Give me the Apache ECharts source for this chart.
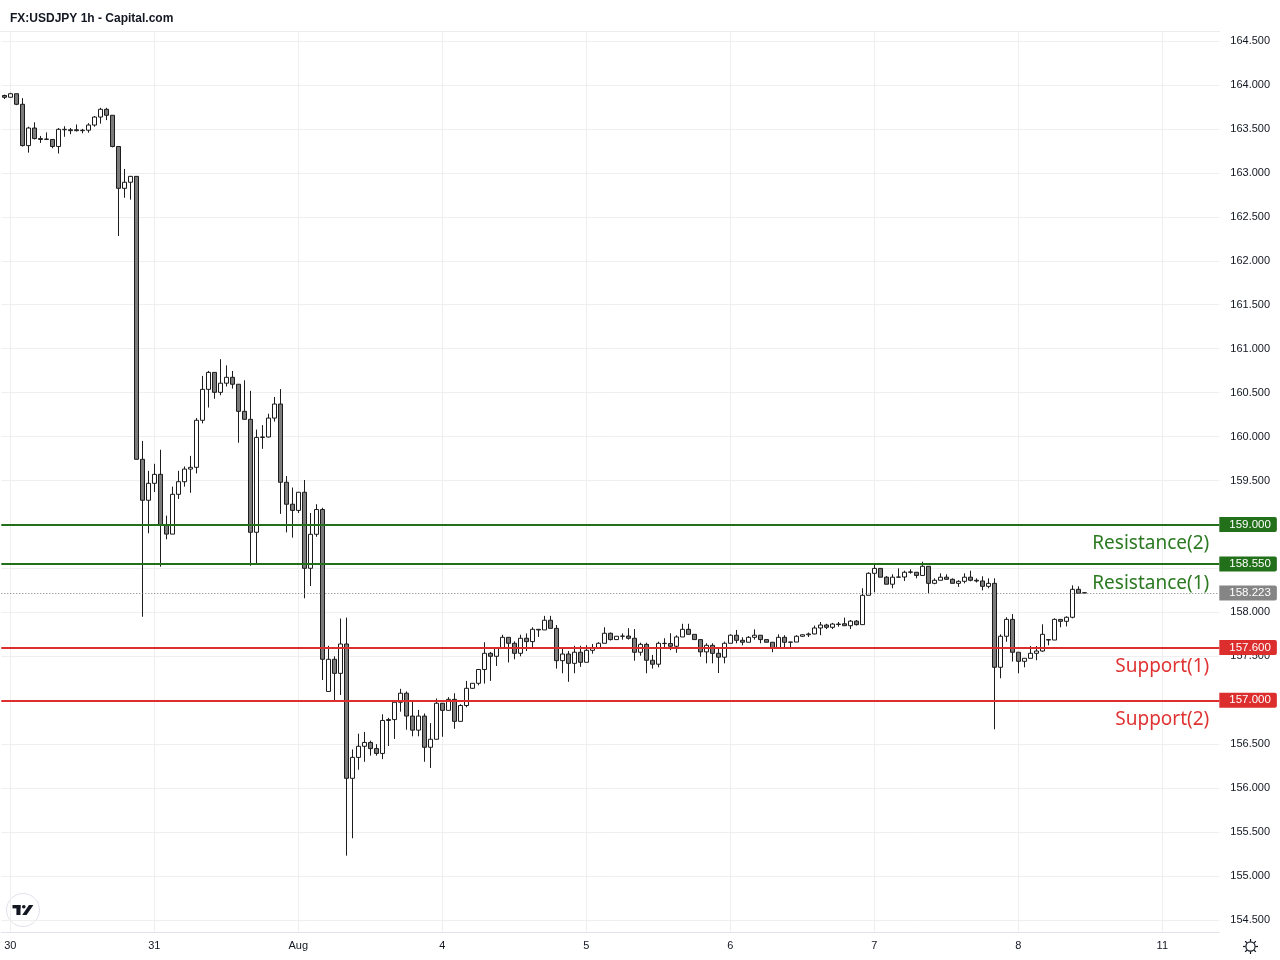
<!DOCTYPE html>
<html>
<head>
<meta charset="utf-8">
<title>FX:USDJPY 1h - Capital.com</title>
<script src="https://cdn.jsdelivr.net/npm/echarts@6/dist/echarts.min.js"></script>
<style>
  html, body { margin: 0; padding: 0; background: #ffffff; }
  #chart { width: 1280px; height: 960px; }
</style>
</head>
<body>
<div id="chart"></div>
<script>
// time axis: one label per trading day, 24 hourly candles each
const dayLabels = ['30', '31', 'Aug', '4', '5', '6', '7', '8', '11'];
const firstSlot = '29 23:00';

// hourly candles (first one is 29 23:00)
const opens = [
  163.88, 163.86, 163.90, 163.78, 163.31, 163.51, 163.39, 163.38, 163.38, 163.30,
  163.49, 163.49, 163.49, 163.48, 163.485, 163.544, 163.635, 163.723, 163.655, 163.30,
  162.824, 162.893, 162.96, 159.741, 159.275, 159.468, 159.57, 158.99, 158.89, 159.343,
  159.486, 159.63, 159.65, 160.185, 160.537, 160.73, 160.503, 160.607, 160.674, 160.595,
  160.287, 160.196, 158.911, 159.99, 159.995, 160.21, 160.37, 159.48, 159.23, 159.16,
  159.366, 158.501, 158.888, 159.17, 157.10, 157.466, 157.306, 157.64, 156.112, 156.35,
  156.476, 156.52, 156.45, 156.395, 156.77, 156.78, 156.977, 157.08, 156.82, 156.66,
  156.82, 156.465, 156.556, 156.966, 156.885, 157.01, 156.76, 156.94, 157.136, 157.193,
  157.35, 157.534, 157.50, 157.60, 157.716, 157.648, 157.534, 157.705, 157.667, 157.807,
  157.80, 157.91, 157.818, 157.45, 157.526, 157.42, 157.546, 157.432, 157.568, 157.60,
  157.648, 157.762, 157.69, 157.728, 157.73, 157.705, 157.546, 157.636, 157.455, 157.41,
  157.648, 157.645, 157.614, 157.72, 157.807, 157.75, 157.69, 157.55, 157.625, 157.534,
  157.49, 157.648, 157.74, 157.682, 157.66, 157.716, 157.74, 157.69, 157.66, 157.60,
  157.716, 157.66, 157.662, 157.728, 157.745, 157.754, 157.822, 157.856, 157.83, 157.867,
  157.87, 157.848, 157.90, 157.86, 158.194, 158.444, 158.50, 158.40, 158.32, 158.40,
  158.402, 158.456, 158.456, 158.42, 158.524, 158.33, 158.365, 158.40, 158.376, 158.33,
  158.353, 158.40, 158.365, 158.357, 158.296, 158.33, 157.375, 157.728, 157.92, 157.546,
  157.443, 157.477, 157.534, 157.56, 157.69, 157.685, 157.92, 157.898, 157.944, 158.262,
  158.22
];
const closes = [
  163.86, 163.90, 163.78, 163.31, 163.51, 163.39, 163.38, 163.385, 163.30, 163.495,
  163.495, 163.48, 163.48, 163.485, 163.544, 163.635, 163.723, 163.655, 163.30, 162.824,
  162.893, 162.96, 159.741, 159.275, 159.468, 159.57, 158.99, 158.89, 159.343, 159.486,
  159.63, 159.65, 160.185, 160.537, 160.73, 160.503, 160.607, 160.674, 160.595, 160.287,
  160.196, 158.911, 159.99, 159.995, 160.21, 160.37, 159.48, 159.23, 159.16, 159.366,
  158.501, 158.888, 159.17, 157.466, 157.466, 157.306, 157.64, 156.112, 156.35, 156.476,
  156.52, 156.45, 156.395, 156.77, 156.78, 156.977, 157.08, 156.82, 156.66, 156.82,
  156.465, 156.556, 156.966, 156.885, 157.01, 156.76, 156.94, 157.136, 157.193, 157.35,
  157.534, 157.50, 157.60, 157.716, 157.648, 157.534, 157.705, 157.667, 157.807, 157.80,
  157.91, 157.818, 157.45, 157.526, 157.42, 157.546, 157.432, 157.568, 157.60, 157.648,
  157.762, 157.69, 157.728, 157.73, 157.705, 157.546, 157.636, 157.455, 157.41, 157.648,
  157.645, 157.614, 157.72, 157.807, 157.75, 157.69, 157.55, 157.625, 157.534, 157.49,
  157.648, 157.74, 157.682, 157.66, 157.716, 157.74, 157.69, 157.66, 157.60, 157.716,
  157.66, 157.662, 157.728, 157.745, 157.754, 157.822, 157.856, 157.83, 157.867, 157.862,
  157.848, 157.90, 157.86, 158.194, 158.444, 158.50, 158.40, 158.32, 158.40, 158.402,
  158.456, 158.46, 158.42, 158.524, 158.33, 158.365, 158.40, 158.376, 158.33, 158.353,
  158.40, 158.365, 158.357, 158.296, 158.33, 157.375, 157.728, 157.92, 157.546, 157.443,
  157.477, 157.534, 157.56, 157.75, 157.685, 157.92, 157.898, 157.944, 158.262, 158.217,
  158.223
];
const lows = [
  163.84, 163.86, 163.77, 163.30, 163.23, 163.38, 163.34, 163.38, 163.28, 163.22,
  163.41, 163.44, 163.47, 163.45, 163.457, 163.525, 163.56, 163.60, 163.29, 162.282,
  162.717, 162.695, 159.74, 157.95, 158.90, 159.37, 158.52, 158.83, 158.89, 159.29,
  159.43, 159.36, 159.58, 160.15, 160.33, 160.43, 160.47, 160.57, 160.545, 159.93,
  160.196, 158.53, 158.56, 159.86, 159.99, 160.17, 159.12, 158.91, 158.85, 159.13,
  158.16, 158.30, 158.86, 157.23, 157.10, 157.00, 157.06, 155.232, 155.43, 156.21,
  156.30, 156.37, 156.37, 156.33, 156.48, 156.56, 156.87, 156.665, 156.59, 156.59,
  156.30, 156.23, 156.556, 156.585, 156.885, 156.675, 156.76, 156.92, 157.13, 157.17,
  157.19, 157.22, 157.39, 157.60, 157.43, 157.466, 157.50, 157.56, 157.60, 157.72,
  157.80, 157.818, 157.36, 157.307, 157.21, 157.307, 157.38, 157.432, 157.53, 157.60,
  157.648, 157.68, 157.69, 157.69, 157.69, 157.45, 157.507, 157.307, 157.36, 157.375,
  157.59, 157.57, 157.54, 157.72, 157.75, 157.69, 157.495, 157.42, 157.42, 157.31,
  157.42, 157.648, 157.648, 157.625, 157.66, 157.69, 157.648, 157.66, 157.546, 157.60,
  157.60, 157.59, 157.662, 157.72, 157.72, 157.75, 157.74, 157.81, 157.81, 157.837,
  157.848, 157.81, 157.85, 157.86, 158.194, 158.228, 158.40, 158.32, 158.274, 158.40,
  158.357, 158.44, 158.387, 158.42, 158.217, 158.32, 158.365, 158.376, 158.33, 158.29,
  158.33, 158.353, 158.34, 158.25, 158.274, 156.67, 157.25, 157.666, 157.44, 157.307,
  157.375, 157.477, 157.455, 157.55, 157.625, 157.685, 157.83, 157.84, 157.932, 158.217,
  158.21
];
const highs = [
  163.89, 163.91, 163.90, 163.85, 163.525, 163.575, 163.42, 163.46, 163.385, 163.51,
  163.53, 163.51, 163.55, 163.50, 163.564, 163.647, 163.74, 163.74, 163.655, 163.30,
  163.044, 162.965, 162.96, 159.95, 159.61, 159.69, 159.85, 159.10, 159.43, 159.61,
  159.66, 159.78, 160.21, 160.69, 160.746, 160.73, 160.88, 160.81, 160.746, 160.595,
  160.64, 160.52, 160.08, 160.13, 160.26, 160.45, 160.54, 159.55, 159.42, 159.366,
  159.506, 159.13, 159.23, 159.19, 157.62, 157.50, 157.93, 157.94, 156.44, 156.62,
  156.64, 156.54, 156.50, 156.84, 156.80, 156.977, 157.13, 157.10, 157.00, 156.89,
  156.85, 156.74, 157.02, 156.966, 157.035, 157.08, 156.955, 157.22, 157.195, 157.35,
  157.66, 157.55, 157.60, 157.745, 157.716, 157.67, 157.745, 157.76, 157.83, 157.807,
  157.96, 157.96, 157.856, 157.59, 157.56, 157.62, 157.62, 157.625, 157.64, 157.66,
  157.83, 157.77, 157.73, 157.76, 157.82, 157.81, 157.655, 157.655, 157.515, 157.666,
  157.705, 157.762, 157.74, 157.87, 157.87, 157.75, 157.69, 157.648, 157.648, 157.59,
  157.666, 157.75, 157.80, 157.716, 157.73, 157.807, 157.74, 157.69, 157.66, 157.75,
  157.74, 157.662, 157.74, 157.75, 157.77, 157.85, 157.89, 157.87, 157.88, 157.89,
  157.94, 157.913, 157.913, 158.274, 158.456, 158.547, 158.50, 158.414, 158.433, 158.50,
  158.474, 158.49, 158.456, 158.576, 158.524, 158.387, 158.444, 158.433, 158.387, 158.365,
  158.444, 158.474, 158.387, 158.41, 158.387, 158.387, 157.75, 157.944, 157.98, 157.546,
  157.477, 157.617, 157.617, 157.864, 157.69, 157.932, 157.92, 157.955, 158.307, 158.296,
  158.228
];

// horizontal levels drawn on the chart
const resistanceValues = [159.0, 158.55];
const resistanceNames = ['Resistance(2)', 'Resistance(1)'];
const supportValues = [157.6, 157.0];
const supportNames = ['Support(1)', 'Support(2)'];

const totalSlots = 203;

let categories = [firstSlot];
for (let d = 0; d < dayLabels.length; d++) {
    for (let h = 0; h < 24; h++) {
        categories.push(dayLabels[d] + ' ' + (h < 10 ? '0' + h : h) + ':00');
    }
}
categories = categories.slice(0, totalSlots);

const candles = opens.map(function (o, i) {
    return [o, closes[i], lows[i], highs[i]];
});

const lastPrice = closes[closes.length - 1];
const isDayStart = function (index) { return index > 0 && (index - 1) % 24 === 0; };

const axisFont = '"Liberation Sans", Arial, sans-serif';
const green = '#23701a';
const greenText = '#2b7a21';
const red = '#dd2e2e';
const redText = '#e03434';

function boxLabel(text, bg) {
    return {
        show: true,
        position: 'end',
        distance: 0,
        formatter: text,
        backgroundColor: bg,
        color: '#ffffff',
        fontFamily: axisFont,
        fontSize: 11.5,
        lineHeight: 14,
        padding: [1, 6, 0, 10],
        borderRadius: [0, 2, 2, 0]
    };
}

function nameLabel(text, color) {
    return {
        show: true,
        position: 'insideEndBottom',
        distance: [10, 10],
        formatter: text,
        color: color,
        fontFamily: '"Noto Sans", "Open Sans", sans-serif',
        fontSize: 19
    };
}

let levelLines = [];
function addLevel(value, name, lineColor, textColor) {
    levelLines.push({
        yAxis: value,
        lineStyle: { color: lineColor, width: 2, type: 'solid' },
        label: boxLabel(value.toFixed(3), lineColor)
    });
    levelLines.push({
        yAxis: value,
        lineStyle: { color: 'rgba(0,0,0,0)', width: 1 },
        label: nameLabel(name, textColor)
    });
}
for (let i = 0; i < resistanceValues.length; i++) {
    addLevel(resistanceValues[i], resistanceNames[i], green, greenText);
}
for (let i = 0; i < supportValues.length; i++) {
    addLevel(supportValues[i], supportNames[i], red, redText);
}
levelLines.push({
    yAxis: lastPrice,
    lineStyle: { color: '#7a7a7a', width: 1, type: [1, 2] },
    label: boxLabel(lastPrice.toFixed(3), '#858585')
});

// little decorations: TradingView badge and settings icon
let gearRays = [];
for (let a = 0; a < 8; a++) {
    const t = a * Math.PI / 4;
    gearRays.push({
        type: 'line',
        shape: { x1: Math.cos(t) * 5, y1: Math.sin(t) * 5, x2: Math.cos(t) * 7.5, y2: Math.sin(t) * 7.5 },
        style: { stroke: '#131722', lineWidth: 1.2 }
    });
}

const chart = echarts.init(document.getElementById('chart'), null, { renderer: 'canvas' });

chart.setOption({
    animation: false,
    backgroundColor: '#ffffff',
    title: {
        text: 'FX:USDJPY 1h - Capital.com',
        left: 5,
        top: 8,
        textStyle: { fontFamily: axisFont, fontSize: 12, fontWeight: 'bold', color: '#131722' }
    },
    grid: [
        { left: 1.3, right: 60.7, top: 41, bottom: 40 },
        { left: 4.3, right: 63.7, top: 31, bottom: 28 }
    ],
    xAxis: [
        {
            type: 'category',
            gridIndex: 0,
            data: categories,
            boundaryGap: true,
            offset: 12,
            axisLine: { show: true, lineStyle: { color: '#e0e3eb', width: 1 } },
            axisTick: { show: false },
            splitLine: { show: false },
            axisLabel: {
                interval: function (index) { return isDayStart(index); },
                formatter: function (value) { return value.split(' ')[0]; },
                color: '#131722',
                fontFamily: axisFont,
                fontSize: 11,
                margin: 8
            }
        },
        {
            type: 'category',
            gridIndex: 1,
            data: categories,
            boundaryGap: false,
            axisLine: { show: false },
            axisTick: { show: false },
            axisLabel: { show: false },
            splitLine: {
                show: true,
                interval: function (index) { return isDayStart(index); },
                lineStyle: { color: '#efefef', width: 1 }
            }
        }
    ],
    yAxis: [
        {
            type: 'value',
            gridIndex: 0,
            position: 'right',
            min: 154.5,
            max: 164.5,
            interval: 0.5,
            axisLine: { show: false },
            axisTick: { show: false },
            splitLine: { show: true, lineStyle: { color: '#efefef', width: 1 } },
            axisLabel: {
                margin: 11,
                color: '#131722',
                fontFamily: axisFont,
                fontSize: 11,
                formatter: function (v) {
                    if (Math.abs(v - 158.5) < 1e-6) return '';
                    return v.toFixed(3);
                }
            }
        },
        { type: 'value', gridIndex: 1, show: false, min: 0, max: 1 }
    ],
    series: [
        {
            type: 'candlestick',
            xAxisIndex: 0,
            yAxisIndex: 0,
            data: candles,
            barWidth: 4,
            silent: true,
            itemStyle: {
                color: '#ffffff',
                color0: '#7b7b7b',
                borderColor: '#1c1c1c',
                borderColor0: '#1c1c1c',
                borderColorDoji: '#1c1c1c',
                borderWidth: 1
            },
            markLine: {
                silent: true,
                symbol: ['none', 'none'],
                animation: false,
                data: levelLines
            }
        }
    ],
    graphic: [
        {
            type: 'line',
            shape: { x1: 0, y1: 31.5, x2: 1220, y2: 31.5 },
            style: { stroke: '#ececec', lineWidth: 1 },
            silent: true
        },
        {
            type: 'group',
            x: 23,
            y: 910,
            silent: true,
            children: [
                { type: 'circle', shape: { cx: 0, cy: 0, r: 16.5 }, style: { fill: '#ffffff', stroke: '#e0e3eb', lineWidth: 1 } },
                { type: 'rect', shape: { x: -10.5, y: -5, width: 8, height: 3.4 }, style: { fill: '#131722' } },
                { type: 'rect', shape: { x: -6.6, y: -5, width: 4.1, height: 10 }, style: { fill: '#131722' } },
                { type: 'circle', shape: { cx: 0.8, cy: -3.2, r: 1.8 }, style: { fill: '#131722' } },
                { type: 'polygon', shape: { points: [[-0.8, 5], [3.6, 5], [10.4, -5], [6, -5]] }, style: { fill: '#131722' } }
            ]
        },
        {
            type: 'group',
            x: 1250.5,
            y: 946.5,
            silent: true,
            children: [
                { type: 'circle', shape: { cx: 0, cy: 0, r: 4.6 }, style: { fill: 'none', stroke: '#131722', lineWidth: 1.2 } }
            ].concat(gearRays)
        }
    ]
});
</script>
</body>
</html>
